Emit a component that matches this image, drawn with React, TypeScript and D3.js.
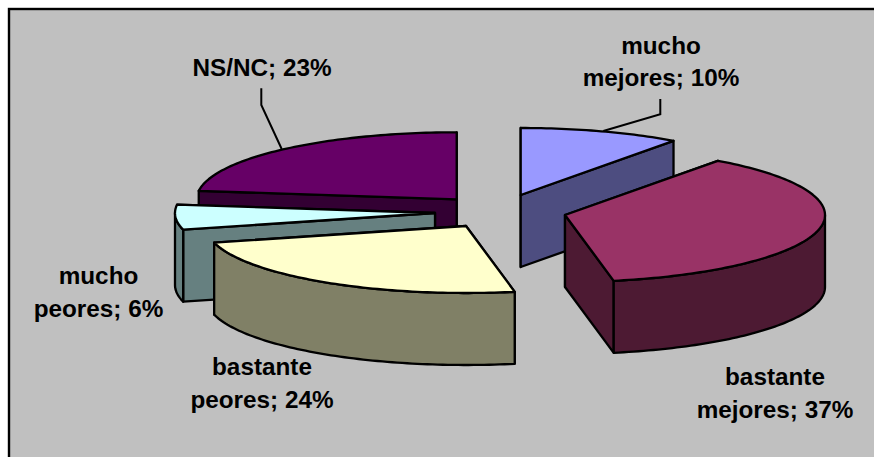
import React from "react";
import * as d3 from "d3";

const categories = ["mucho mejores", "bastante mejores", "bastante peores", "mucho peores", "NS/NC"];
const values = [10, 37, 24, 6, 23];
const topColors = ["#9999ff", "#993366", "#ffffcc", "#ccffff", "#660066"];
const sideColors = ["#4d4d80", "#4d1a33", "#808066", "#668080", "#330033"];
const apexX = [520.7, 565, 466, 435, 456.7];
const apexY = [195, 215, 226, 213, 199.3];
const drawOrder = [4, 0, 1, 3, 2];
const labelLines = [
  ["mucho", "mejores; 10%"],
  ["bastante", "mejores; 37%"],
  ["bastante", "peores; 24%"],
  ["mucho", "peores; 6%"],
  ["NS/NC; 23%"],
];
const labelX = [661, 775, 262, 98.5, 262];
const labelY = [53.5, 385, 375, 284, 75.5];
const leaderPoints: ([number, number][] | null)[] = [
  [[660.3, 99], [660.3, 114.3], [603.3, 131]],
  null,
  null,
  null,
  [[261.3, 88.3], [261.3, 105], [281.7, 149]],
];

const W = 874, H = 457;
const RX = 260, RY = 67, DEPTH = 72;

const pieGen = d3.pie<number>().sort(null).startAngle(0).endAngle(2 * Math.PI);
const arcs = pieGen(values);
const lineGen = d3.line<[number, number]>();

function rim(cx: number, cy: number, a0: number, a1: number, dy = 0): [number, number][] {
  const n = Math.max(2, Math.ceil(Math.abs(a1 - a0) / 0.02));
  return d3.range(n + 1).map((i) => {
    const t = a0 + ((a1 - a0) * i) / n;
    return [cx + RX * Math.sin(t), cy - RY * Math.cos(t) + dy] as [number, number];
  });
}

export default function App() {
  const stroke = { stroke: "#000", strokeWidth: 2.3, strokeLinejoin: "round" as const };
  return (
    <svg
      width={W}
      height={H}
      style={{ position: "fixed", left: 0, top: 0, display: "block", background: "#fff" }}
    >
      <rect x={9} y={9} width={W + 10} height={H + 10} fill="#c0c0c0" stroke="#000" strokeWidth={2.4} />
      {drawOrder.map((i) => {
        const a = arcs[i];
        const cx = apexX[i], cy = apexY[i];
        const apex: [number, number] = [cx, cy];
        const s = a.startAngle, e = a.endAngle;
        const faceAngles = [s, e].sort((p, q) => rim(cx, cy, p, p)[0][1] - rim(cx, cy, q, q)[0][1]);
        const face = (t: number) => {
          const p = rim(cx, cy, t, t)[0];
          return lineGen([apex, p, [p[0], p[1] + DEPTH], [cx, cy + DEPTH]]) + "Z";
        };
        const v0 = Math.max(s, Math.PI / 2), v1 = Math.min(e, (3 * Math.PI) / 2);
        const wall =
          v1 > v0
            ? lineGen([...rim(cx, cy, v0, v1), ...rim(cx, cy, v1, v0, DEPTH)]) + "Z"
            : null;
        const top = lineGen([apex, ...rim(cx, cy, s, e)]) + "Z";
        return (
          <g key={categories[i]}>
            {faceAngles.map((t, k) => (
              <path key={k} d={face(t)} fill={sideColors[i]} {...stroke} />
            ))}
            {wall && <path d={wall} fill={sideColors[i]} {...stroke} />}
            <path d={top} fill={topColors[i]} {...stroke} />
          </g>
        );
      })}
      {leaderPoints.map((pts, i) =>
        pts ? <path key={i} d={lineGen(pts) ?? ""} fill="none" stroke="#000" strokeWidth={2} /> : null
      )}
      {labelLines.map((lines, i) => (
        <text
          key={i}
          textAnchor="middle"
          fontFamily="'Liberation Sans', Arial, sans-serif"
          fontWeight="bold"
          fontSize={24.3}
          fill="#000"
        >
          {lines.map((l, j) => (
            <tspan key={j} x={labelX[i]} y={labelY[i] + j * 32.5}>
              {l}
            </tspan>
          ))}
        </text>
      ))}
    </svg>
  );
}
